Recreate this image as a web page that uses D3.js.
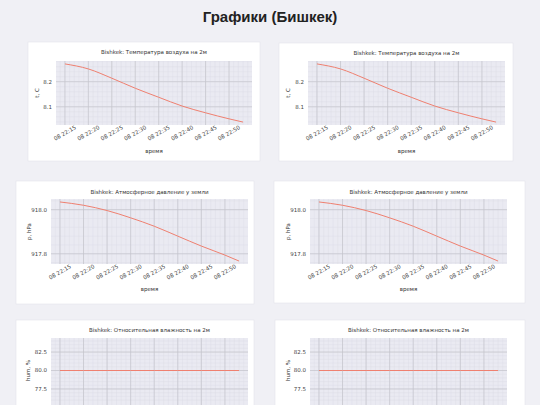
<!DOCTYPE html>
<html><head><meta charset="utf-8">
<script src="https://cdn.jsdelivr.net/npm/d3@7"></script>
<style>
html,body{margin:0;padding:0;background:#f0f0f5;overflow:hidden;}
svg{display:block;}
</style></head>
<body>
<svg id="c" width="540" height="405"></svg>
<script>
// ---- data ----
const times = ["22:15","22:20","22:25","22:30","22:35","22:40","22:45","22:50","22:53"];
const temperature = [8.271, 8.251, 8.214, 8.174, 8.138, 8.103, 8.076, 8.052, 8.039];
const pressure = [918.035, 918.020, 917.996, 917.963, 917.925, 917.880, 917.835, 917.794, 917.767];
const humidity = [80.0, 80.0, 80.0, 80.0, 80.0, 80.0, 80.0, 80.0, 80.0];
const xTickTimes = ["22:15","22:20","22:25","22:30","22:35","22:40","22:45","22:50"];
const dayLabel = "08";
const tempTicks = [8.1, 8.2];
const pressTicks = [917.8, 918.0];
const humTicks = [77.5, 80.0, 82.5];
const humDomain = [75.6, 84.4];
const pageTitle = "Графики (Бишкек)";
const titles = {
  t: "Bishkek: Температура воздуха на 2м",
  p: "Bishkek: Атмосферное давление у земли",
  h: "Bishkek: Относительная влажность на 2м"
};

const parse = d3.timeParse("%H:%M");
const svg = d3.select("#c");
const H = 405;

svg.append("text").attr("x", 270).attr("y", 22).attr("text-anchor", "middle")
  .attr("font-family", "Liberation Sans, Arial, sans-serif").attr("font-weight", "bold")
  .attr("font-size", 15).attr("fill", "#222").text(pageTitle);

const panels = [
  {card:[28,42,232,119], plot:[56,252,61,125], ty:52, xly:151, ylx:37, vals:temperature, ticks:tempTicks, minor:0.02, title:titles.t, ylab:"t, C"},
  {card:[279,43,234,118], plot:[308,505,61,125], ty:53, xly:151, ylx:288, vals:temperature, ticks:tempTicks, minor:0.02, title:titles.t, ylab:"t, C"},
  {card:[16,181,238,123], plot:[51,248,199,264], ty:192, xly:289, ylx:29, vals:pressure, ticks:pressTicks, minor:0.04, title:titles.p, ylab:"p, hPa"},
  {card:[274,181,251,122], plot:[310,507,199,264], ty:192, xly:289, ylx:288, vals:pressure, ticks:pressTicks, minor:0.04, title:titles.p, ylab:"p, hPa"},
  {card:[16,320,238,95], plot:[51,248,338,406], ty:330, xly:430, ylx:28, vals:humidity, ticks:humTicks, minor:0.5, title:titles.h, ylab:"hum, %", dom:humDomain},
  {card:[275,320,250,95], plot:[310,507,338,406], ty:330, xly:430, ylx:288, vals:humidity, ticks:humTicks, minor:0.5, title:titles.h, ylab:"hum, %", dom:humDomain}
];

const font = "DejaVu Sans, sans-serif";
const fmt = d3.format(".1f");

panels.forEach(p => {
  const g = svg.append("g");
  const [cx, cy, cw, ch] = p.card;
  g.append("rect").attr("x", cx).attr("y", cy).attr("width", cw).attr("height", ch)
    .attr("fill", "#fff").attr("stroke", "#e4e4ea").attr("stroke-width", 0.6);
  const [x0, x1, y0, y1] = p.plot;
  const data = times.map((t, i) => ({t: parse(t), v: p.vals[i]}));
  const tExt = d3.extent(data, d => d.t);
  const span = tExt[1] - tExt[0];
  const x = d3.scaleTime().domain([new Date(+tExt[0] - span*0.05), new Date(+tExt[1] + span*0.05)]).range([x0, x1]);
  let dom = p.dom;
  if (!dom) {
    const e = d3.extent(p.vals); const r = e[1]-e[0];
    dom = [e[0]-r*0.05, e[1]+r*0.05];
  }
  const yBottom = p.dom ? 403 : y1;
  const y = d3.scaleLinear().domain(dom).range([yBottom, y0]);

  const cid = "clip" + Math.round(x0) + "_" + Math.round(y0);
  svg.append("clipPath").attr("id", cid).append("rect").attr("x", x0).attr("y", y0).attr("width", x1-x0).attr("height", y1-y0);
  const pg = g.append("g").attr("clip-path", `url(#${cid})`);
  pg.append("rect").attr("x", x0).attr("y", y0).attr("width", x1-x0).attr("height", y1-y0).attr("fill", "#eaeaf2");

  // minor grid
  const minorX = d3.timeMinute.every(1).range(x.domain()[0], x.domain()[1]);
  pg.selectAll(".mx").data(minorX).join("line")
    .attr("x1", d => x(d)).attr("x2", d => x(d)).attr("y1", y0).attr("y2", y1)
    .attr("stroke", "#dcdce6").attr("stroke-width", 0.4);
  const minorY = d3.range(Math.ceil(dom[0]/p.minor)*p.minor, dom[1], p.minor);
  pg.selectAll(".my").data(minorY).join("line")
    .attr("x1", x0).attr("x2", x1).attr("y1", d => y(d)).attr("y2", d => y(d))
    .attr("stroke", "#dcdce6").attr("stroke-width", 0.4);
  // major grid
  const xt = xTickTimes.map(parse);
  pg.selectAll(".gx").data(xt).join("line")
    .attr("x1", d => x(d)).attr("x2", d => x(d)).attr("y1", y0).attr("y2", y1)
    .attr("stroke", "#c4c4cc").attr("stroke-width", 0.7);
  pg.selectAll(".gy").data(p.ticks).join("line")
    .attr("x1", x0).attr("x2", x1).attr("y1", d => y(d)).attr("y2", d => y(d))
    .attr("stroke", "#c4c4cc").attr("stroke-width", 0.7);

  pg.append("path").datum(data)
    .attr("d", d3.line().x(d => x(d.t)).y(d => y(d.v)).curve(d3.curveMonotoneX))
    .attr("fill", "none").attr("stroke", "#ef8070").attr("stroke-width", 1);

  g.selectAll(".yt").data(p.ticks).join("text")
    .attr("x", x0 - 4).attr("y", d => y(d)).attr("dy", "0.35em").attr("text-anchor", "end")
    .attr("font-family", font).attr("font-size", 5.5).attr("fill", "#444").text(fmt);
  // x tick labels (only those inside the window)
  if (y1 + 12 < H) {
    g.selectAll(".xt").data(xt).join("text")
      .attr("transform", d => `translate(${x(d)},${y1 + 8}) rotate(-30)`)
      .attr("text-anchor", "middle").attr("dy", "0.35em")
      .attr("font-family", font).attr("font-size", 5.5).attr("fill", "#444")
      .text(d => dayLabel + " " + d3.timeFormat("%H:%M")(d));
  }
  g.append("text").attr("x", (x0 + x1)/2).attr("y", p.ty).attr("text-anchor", "middle").attr("dy", "0.35em")
    .attr("font-family", font).attr("font-size", 5.5).attr("fill", "#333").text(p.title);
  if (p.xly < H) {
    g.append("text").attr("x", (x0 + x1)/2).attr("y", p.xly).attr("text-anchor", "middle").attr("dy", "0.35em")
      .attr("font-family", font).attr("font-size", 5.5).attr("fill", "#333").text("время");
  }
  g.append("text").attr("transform", `translate(${p.ylx},${(y0 + yBottom)/2}) rotate(-90)`)
    .attr("text-anchor", "middle").attr("dy", "0.35em")
    .attr("font-family", font).attr("font-size", 5.5).attr("fill", "#333").text(p.ylab);
});
</script>
</body></html>
